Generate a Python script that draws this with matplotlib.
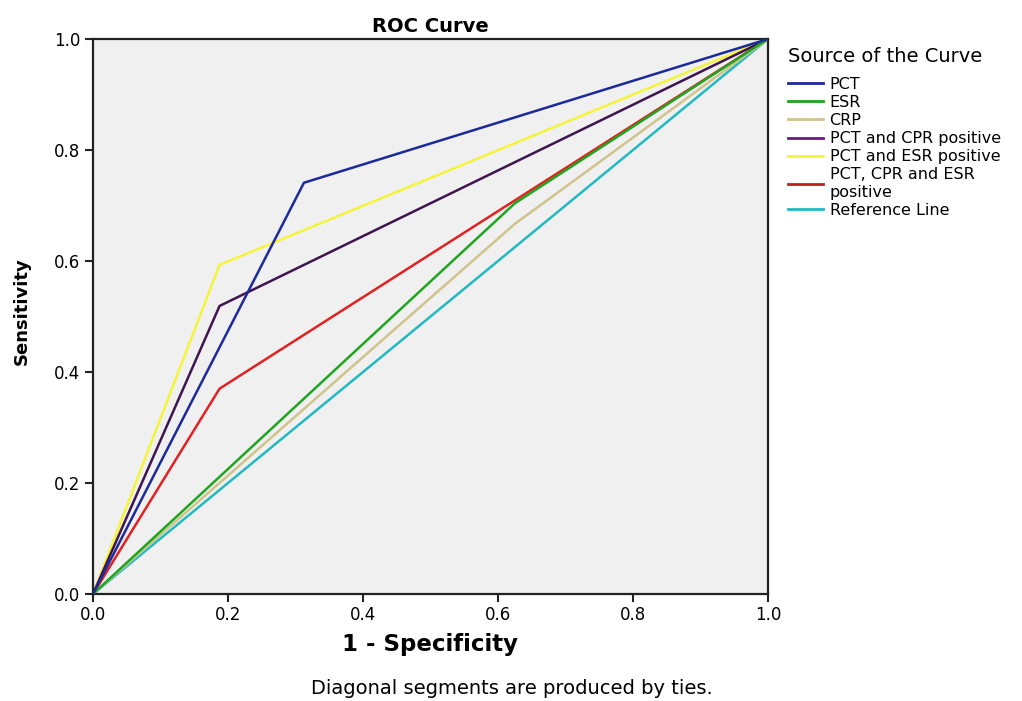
import matplotlib
matplotlib.use("Agg")
import matplotlib.pyplot as plt

# ROC points (1 - specificity, sensitivity)
series_names = ["PCT", "ESR", "CRP", "PCT and CPR positive", "PCT and ESR positive",
                "PCT, CPR and ESR\npositive", "Reference Line"]
fpr = {
    "PCT": [0.0, 0.3125, 1.0],
    "ESR": [0.0, 0.625, 1.0],
    "CRP": [0.0, 0.625, 1.0],
    "PCT and CPR positive": [0.0, 0.1875, 1.0],
    "PCT and ESR positive": [0.0, 0.1875, 1.0],
    "PCT, CPR and ESR\npositive": [0.0, 0.1875, 1.0],
    "Reference Line": [0.0, 1.0],
}
tpr = {
    "PCT": [0.0, 0.741, 1.0],
    "ESR": [0.0, 0.704, 1.0],
    "CRP": [0.0, 0.667, 1.0],
    "PCT and CPR positive": [0.0, 0.519, 1.0],
    "PCT and ESR positive": [0.0, 0.593, 1.0],
    "PCT, CPR and ESR\npositive": [0.0, 0.370, 1.0],
    "Reference Line": [0.0, 1.0],
}
colors = ["#1c2a9a", "#1fa51f", "#cfc48c", "#3e1550", "#f4f43a", "#e02222", "#22b9c2"]
legend_colors = ["#1c2a9a", "#1fa51f", "#cfc48c", "#6a1a80", "#f4f43a", "#c02020", "#22b9c2"]
ticks = [0.0, 0.2, 0.4, 0.6, 0.8, 1.0]

fig = plt.figure(figsize=(10.22, 7.01), dpi=100)
ax = fig.add_axes([93 / 1022, 1 - 594 / 701, 675 / 1022, 555 / 701])
ax.set_facecolor("#f0f0f0")

# draw in reverse so the reference line sits beneath
order = list(range(len(series_names)))[::-1]
for i in order:
    name = series_names[i]
    ax.plot(fpr[name], tpr[name], color=colors[i], lw=1.8, zorder=2 + (len(order) - i) * 0.1)

ax.set_xlim(0, 1)
ax.set_ylim(0, 1)
ax.set_xticks(ticks)
ax.set_yticks(ticks)
ax.set_xticklabels([f"{t:.1f}" for t in ticks], fontsize=12)
ax.set_yticklabels([f"{t:.1f}" for t in ticks], fontsize=12)
ax.tick_params(direction="out", length=6, width=1.5, color="#222222", pad=3)
for s in ax.spines.values():
    s.set_linewidth(1.6)
    s.set_color("#222222")

ax.set_title("ROC Curve", fontsize=14, fontweight="bold", pad=5)
ax.set_xlabel("1 - Specificity", fontsize=16.5, fontweight="bold", labelpad=6)
ax.set_ylabel("Sensitivity", fontsize=13, fontweight="bold")
ax.yaxis.set_label_coords(-0.092, 0.51)

# legend outside the axes on the right
fig.text(788 / 1022, 1 - 57 / 701, "Source of the Curve", fontsize=14, va="center", ha="left")
handles = [plt.Line2D([], [], color=legend_colors[i], lw=2) for i in range(len(series_names))]
leg = fig.legend(handles, series_names, loc="upper left",
                 bbox_to_anchor=(788 / 1022, 1 - 77 / 701), frameon=False,
                 fontsize=11.5, handlelength=2.2, handletextpad=0.4,
                 labelspacing=0.19, borderaxespad=0, borderpad=0)

fig.text(512 / 1022, 1 - 688 / 701, "Diagonal segments are produced by ties.",
         ha="center", va="center", fontsize=14)

fig.savefig("out.png", dpi=100)
